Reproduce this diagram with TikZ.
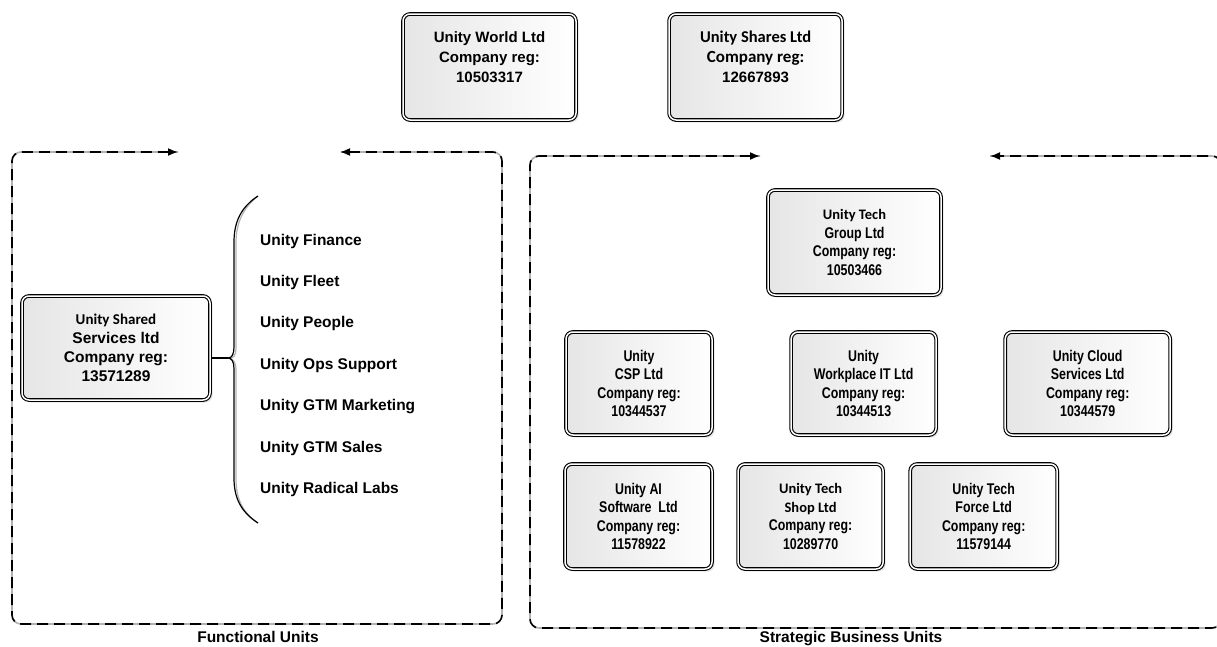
\documentclass[tikz,border=0pt]{standalone}
\usepackage{fontspec}
\setmainfont{Liberation Sans}
\newfontfamily\calfont{Carlito}
\newfontfamily\narrowfont[FakeStretch=0.8]{Liberation Sans}
\usetikzlibrary{positioning}
\usetikzlibrary{arrows.meta,shadows}
\tikzset{
  company/.style = {shape=rectangle, rounded corners=7pt,
                    draw, double, line width=1.1pt, double distance=1.5pt,
                    align=center, inner sep=2pt,
                    left color=black!10, right color=white,
                    drop shadow={shadow xshift=2.5pt, shadow yshift=-2.5pt, fill=black!20}},
  parent/.style  = {company, minimum width=173pt, minimum height=106pt,
                    font=\fontsize{15}{20}\selectfont\bfseries},
  unit/.style    = {company, minimum width=146pt, minimum height=103pt,
                    font=\fontsize{15.5}{18.5}\narrowfont\bfseries},
  item/.style    = {anchor=west, inner xsep=0pt, inner ysep=0pt, minimum height=41pt,
                    font=\fontsize{15.5}{18}\selectfont\bfseries},
  frame/.style   = {line width=1.6pt, dash pattern=on 11pt off 6pt, rounded corners=9pt,
                    {Latex[length=10pt,width=8pt]}-{Latex[length=10pt,width=8pt]}},
  frameshade/.style = {line width=1.6pt, dash pattern=on 11pt off 6pt, rounded corners=9pt,
                    draw=black!30, xshift=2.5pt, yshift=-2.5pt},
  brace/.style   = {line width=1.2pt},
  braceshade/.style = {line width=1.2pt, draw=black!30, xshift=2pt, yshift=-1pt},
  caption/.style = {font=\fontsize{15.5}{18}\selectfont\bfseries}
}

\begin{document}
\begin{tikzpicture}[x=1pt, y=-1pt]
  \useasboundingbox (0,0) rectangle (1217,646);

  % owners
  \node [parent] (world) at (489.5,67) {Unity World Ltd\\Company reg:\\10503317\\\mbox{}};
  \node [parent] (shares) [right=92pt of world]
        {{\calfont\fontsize{16.5}{20}\selectfont Unity Shares Ltd}\\
         {\calfont\fontsize{17}{20}\selectfont Company reg:}\\12667893\\\mbox{}};

  % functional units
  \coordinate (fu-a) at (178,152);
  \coordinate (fu-nw) at (12,152);
  \coordinate (fu-sw) at (12,624);
  \coordinate (fu-se) at (502,624);
  \coordinate (fu-ne) at (502,152);
  \coordinate (fu-b) at (340,152);
  \draw [frameshade] (fu-a) -- (fu-nw) -- (fu-sw) -- (fu-se) -- (fu-ne) -- (fu-b);
  \draw [frame] (fu-a) -- (fu-nw) -- (fu-sw) -- (fu-se) -- (fu-ne) -- (fu-b);
  \node [caption] (fulabel) at (258,637) {Functional Units};

  \node [company, minimum width=188pt, minimum height=104pt,
         font=\fontsize{15.5}{19}\selectfont\bfseries] (shared) at (116,348)
        {{\calfont\fontsize{15}{19}\selectfont Unity Shared}\\Services ltd\\Company reg:\\13571289};

  \coordinate (brtop) at (258,196);
  \coordinate (brtip) at (228,358);
  \coordinate (brbot) at (258,523);
  \draw [braceshade] (brtop) .. controls (241,207) and (234,222) .. (234,242) -- (234,347)
        .. controls (234,354) and (232,358) .. (brtip)
        .. controls (232,358) and (234,362) .. (234,369) -- (234,478)
        .. controls (234,498) and (241,512) .. (brbot);
  \draw [brace] (brtop) .. controls (241,207) and (234,222) .. (234,242) -- (234,347)
        .. controls (234,354) and (232,358) .. (brtip)
        .. controls (232,358) and (234,362) .. (234,369) -- (234,478)
        .. controls (234,498) and (241,512) .. (brbot);
  \draw [brace] (shared.east |- brtip) -- (brtip);

  \node [item] (fin) at (260,241) {Unity Finance};
  \node [item, below=0pt of fin.south west, anchor=north west] (fleet) {Unity Fleet};
  \node [item, below=0pt of fleet.south west, anchor=north west] (people) {Unity People};
  \node [item, below=0pt of people.south west, anchor=north west] (ops) {Unity Ops Support};
  \node [item, below=0pt of ops.south west, anchor=north west] (mkt) {Unity GTM Marketing};
  \node [item, below=0pt of mkt.south west, anchor=north west] (sales) {Unity GTM Sales};
  \node [item, below=0pt of sales.south west, anchor=north west] (labs) {Unity Radical Labs};

  % strategic business units
  \coordinate (sbu-a) at (760,156);
  \coordinate (sbu-nw) at (530,156);
  \coordinate (sbu-sw) at (530,628);
  \coordinate (sbu-se) at (1221,628);
  \coordinate (sbu-ne) at (1221,156);
  \coordinate (sbu-b) at (990,156);
  \draw [frameshade] (sbu-a) -- (sbu-nw) -- (sbu-sw) -- (sbu-se) -- (sbu-ne) -- (sbu-b);
  \draw [frame] (sbu-a) -- (sbu-nw) -- (sbu-sw) -- (sbu-se) -- (sbu-ne) -- (sbu-b);
  \node [caption] (sbulabel) at (851,639) {Strategic Business Units};

  \node [unit, minimum width=173pt, minimum height=105pt] (group) at (854.5,242.5)
        {{\calfont\fontsize{14.5}{19}\selectfont Unity Tech}\\Group Ltd\\Company reg:\\10503466};

  \node [unit] (csp) at (639,383.5) {Unity\\CSP Ltd\\Company reg:\\10344537};
  \node [unit, minimum width=145pt] (work) [right=78pt of csp]
        {Unity\\Workplace IT Ltd\\Company reg:\\10344513};
  \node [unit, minimum width=165pt] (cloud) [right=68pt of work]
        {Unity Cloud\\Services Ltd\\Company reg:\\10344579};

  \node [unit, minimum width=147pt, minimum height=105pt] (ai) at (638.5,516.5)
        {Unity AI\\Software\ \ Ltd\\Company reg:\\11578922};
  \node [unit, minimum width=145pt, minimum height=105pt] (shop) [right=25pt of ai]
        {{\calfont\fontsize{14.5}{18.5}\selectfont Unity Tech}\\
         {\calfont\fontsize{14.5}{18.5}\selectfont Shop Ltd}\\Company reg:\\10289770};
  \node [unit, minimum width=147pt, minimum height=105pt] (force) [right=26pt of shop]
        {Unity Tech\\Force Ltd\\Company reg:\\11579144};
\end{tikzpicture}
\end{document}
